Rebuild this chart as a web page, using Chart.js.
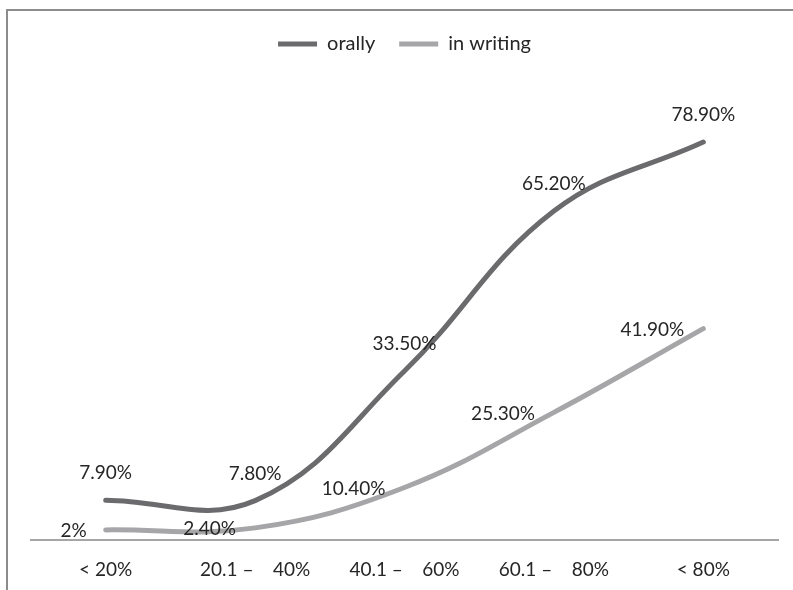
<!DOCTYPE html>
<html>
<head>
<meta charset="utf-8">
<style>
  html, body { margin: 0; padding: 0; background: #ffffff; }
  #wrap { position: relative; width: 793px; height: 590px; }
  canvas { display: block; }
</style>
<script src="https://cdn.jsdelivr.net/npm/chart.js@4/dist/chart.umd.min.js"></script>
</head>
<body>
<div id="wrap"><canvas id="chart" width="793" height="590"></canvas></div>
<script>
// Share of respondents by proficiency band
const categories = ['< 20%', '20.1 –    40%', '40.1 –    60%', '60.1 –    80%', '< 80%'];
const orally = [7.9, 7.8, 33.5, 65.2, 78.9];
const inWriting = [2, 2.4, 10.4, 25.3, 41.9];
const orallyLabels = ['7.90%', '7.80%', '33.50%', '65.20%', '78.90%'];
const writingLabels = ['2%', '2.40%', '10.40%', '25.30%', '41.90%'];

const FONT = 'Lato, "Open Sans", sans-serif';
const TEXT = '#262626';

// Thin frame along the top and left edges of the canvas
const frame = {
  id: 'frame',
  beforeDraw(chart) {
    const ctx = chart.ctx;
    ctx.save();
    ctx.strokeStyle = '#8c8c8c';
    ctx.lineWidth = 2;
    ctx.beginPath();
    ctx.moveTo(7, chart.height);
    ctx.lineTo(7, 10);
    ctx.lineTo(chart.width, 10);
    ctx.stroke();
    ctx.restore();
  }
};

// Extra room under the legend
const legendSpacer = {
  id: 'legendSpacer',
  beforeLayout(chart) {
    const lg = chart.legend;
    if (lg && !lg._spaced) {
      const fit = lg.fit;
      lg.fit = function () { fit.call(this); this.height += 22; };
      lg._spaced = true;
    }
  }
};

// Value labels: above the points for the first series, to the left for the second
const valueLabels = {
  id: 'valueLabels',
  afterDatasetsDraw(chart) {
    const ctx = chart.ctx;
    ctx.save();
    ctx.font = '19px ' + FONT;
    ctx.fillStyle = TEXT;
    ctx.textBaseline = 'middle';
    chart.getDatasetMeta(0).data.forEach((pt, i) => {
      ctx.textAlign = 'center';
      ctx.fillText(orallyLabels[i], pt.x, pt.y - 27);
    });
    chart.getDatasetMeta(1).data.forEach((pt, i) => {
      ctx.textAlign = 'right';
      ctx.fillText(writingLabels[i], pt.x - 19, pt.y + 1);
    });
    ctx.restore();
  }
};

new Chart(document.getElementById('chart'), {
  type: 'line',
  data: {
    labels: categories,
    datasets: [
      {
        label: 'orally',
        data: orally,
        borderColor: '#6b6b6e',
        backgroundColor: '#6b6b6e',
        borderWidth: 5,
        borderCapStyle: 'round',
        pointRadius: 0,
        pointHoverRadius: 0,
        tension: 0.4,
        fill: false
      },
      {
        label: 'in writing',
        data: inWriting,
        borderColor: '#a6a6a8',
        backgroundColor: '#a6a6a8',
        borderWidth: 5,
        borderCapStyle: 'round',
        pointRadius: 0,
        pointHoverRadius: 0,
        tension: 0.4,
        fill: false
      }
    ]
  },
  options: {
    responsive: false,
    animation: false,
    layout: { padding: { left: 31, right: 15, top: 10, bottom: 8 } },
    plugins: {
      legend: {
        display: true,
        position: 'top',
        labels: {
          usePointStyle: true,
          pointStyle: 'line',
          pointStyleWidth: 39,
          padding: 24,
          color: TEXT,
          font: { family: FONT, size: 20 }
        }
      },
      tooltip: { enabled: false }
    },
    scales: {
      x: {
        offset: true,
        grid: { display: false, drawTicks: false },
        border: { display: true, color: '#a6a6a6', width: 2 },
        ticks: { color: TEXT, padding: 18, font: { family: FONT, size: 19 }, maxRotation: 0, autoSkip: false },
        afterFit(scale) { scale.height = 42; }
      },
      y: {
        display: false,
        min: 0,
        max: 90
      }
    }
  },
  plugins: [frame, legendSpacer, valueLabels]
});
</script>
</body>
</html>
